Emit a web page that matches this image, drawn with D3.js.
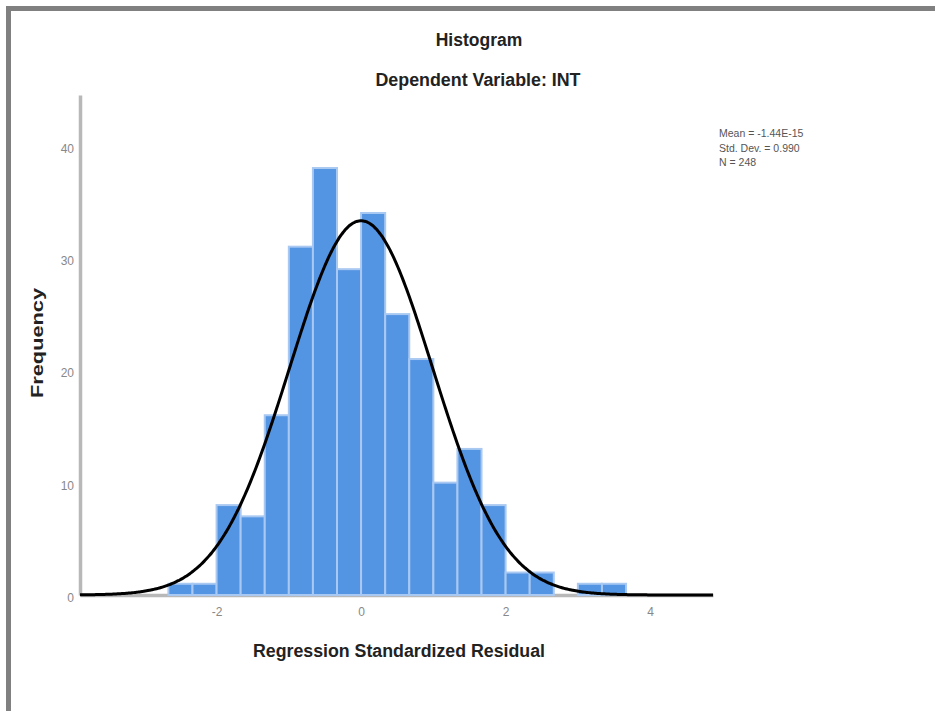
<!DOCTYPE html>
<html>
<head>
<meta charset="utf-8">
<script src="https://cdn.jsdelivr.net/npm/d3@7"></script>
<style>
  body { margin: 0; background: #fff; }
  svg { display: block; font-family: "Liberation Sans", Arial, sans-serif; }
</style>
</head>
<body>
<svg class="main"></svg>
<script>
// histogram counts, bins of width 1/3 starting at -8/3
let binStart = -8 / 3,
    binWidth = 1 / 3,
    counts = [1, 1, 8, 7, 16, 31, 38, 29, 34, 25, 21, 10, 13, 8, 2, 2, 0, 1, 1],
    xTicks = [-2, 0, 2, 4],
    yTicks = [0, 10, 20, 30, 40],
    stats = ['Mean = -1.44E-15', 'Std. Dev. = 0.990', 'N = 248'],
    mean = 0,
    sd = 0.990,
    n = 248;

let w = 935, h = 711;

let svg = d3.select('.main')
    .attr('width', w)
    .attr('height', h)
    .style('background-color', '#fff');

// frame (top and left edges only)
svg.append('rect').attr('x', 6).attr('y', 6).attr('width', w - 6).attr('height', 5).attr('fill', '#808080');
svg.append('rect').attr('x', 6).attr('y', 6).attr('width', 5).attr('height', h - 6).attr('fill', '#808080');

let x = d3.scaleLinear().domain([-3.89, 4.87]).range([80, 713]);
let y = d3.scaleLinear().domain([0, 44.5]).range([595, 95]);

let bins = counts.map((c, i) => ({x0: binStart + i * binWidth, x1: binStart + (i + 1) * binWidth, count: c}));

// axes
let yAxis = svg.append('g')
    .attr('transform', `translate(${x.range()[0]},0)`)
    .call(d3.axisLeft(y).tickValues(yTicks).tickSize(0).tickPadding(6).tickFormat(d => String(d)));
yAxis.select('.domain').attr('stroke', '#b8b8b8').attr('stroke-width', 3.5);
yAxis.selectAll('text').attr('fill', '#888').style('font-size', '12px').attr('dy', '0.55em');

let xAxis = svg.append('g')
    .attr('transform', `translate(0,${y(0)})`)
    .call(d3.axisBottom(x).tickValues(xTicks).tickSize(0).tickPadding(12).tickFormat(d => String(d)));
xAxis.select('.domain').attr('stroke', '#b8b8b8').attr('stroke-width', 3.5);
xAxis.selectAll('text').attr('fill', '#888').style('font-size', '12px');

// bars
svg.append('g').selectAll('rect')
    .data(bins.filter(d => d.count > 0))
    .enter()
    .append('rect')
    .attr('x', d => x(d.x0))
    .attr('y', d => y(d.count))
    .attr('width', d => x(d.x1) - x(d.x0))
    .attr('height', d => y(0) - y(d.count))
    .attr('fill', '#5394e3')
    .attr('stroke', '#a9c9f2')
    .attr('stroke-width', 2);

// normal curve
let xs = d3.range(-3.89, 4.8701, 0.02);
let curve = d3.line()
    .x(d => x(d))
    .y(d => y(n * binWidth * Math.exp(-0.5 * ((d - mean) / sd) ** 2) / (sd * Math.sqrt(2 * Math.PI))))
    .curve(d3.curveBasis);
svg.append('path')
    .datum(xs)
    .attr('d', curve)
    .attr('fill', 'none')
    .attr('stroke', '#000')
    .attr('stroke-width', 3);

// titles
svg.append('text').text('Histogram')
    .attr('x', 479).attr('y', 46).attr('text-anchor', 'middle')
    .attr('fill', '#222').style('font-size', '17.5px').style('font-weight', 'bold');
svg.append('text').text('Dependent Variable: INT')
    .attr('x', 478).attr('y', 86).attr('text-anchor', 'middle')
    .attr('fill', '#222').style('font-size', '17.5px').style('font-weight', 'bold')
    .attr('textLength', 205).attr('lengthAdjust', 'spacingAndGlyphs');
svg.append('text').text('Regression Standardized Residual')
    .attr('x', 399).attr('y', 657).attr('text-anchor', 'middle')
    .attr('fill', '#222').style('font-size', '17.5px').style('font-weight', 'bold')
    .attr('textLength', 292).attr('lengthAdjust', 'spacingAndGlyphs');
svg.append('text').text('Frequency')
    .attr('transform', 'translate(43,343) rotate(-90)')
    .attr('text-anchor', 'middle')
    .attr('fill', '#222').style('font-size', '16px').style('font-weight', 'bold')
    .attr('textLength', 110).attr('lengthAdjust', 'spacingAndGlyphs');

// stats box
svg.append('g').selectAll('text')
    .data(stats)
    .enter()
    .append('text')
    .text(d => d)
    .attr('x', 719)
    .attr('y', (d, i) => 137 + i * 14.5)
    .attr('fill', '#555')
    .style('font-size', '10.5px');
</script>
</body>
</html>
